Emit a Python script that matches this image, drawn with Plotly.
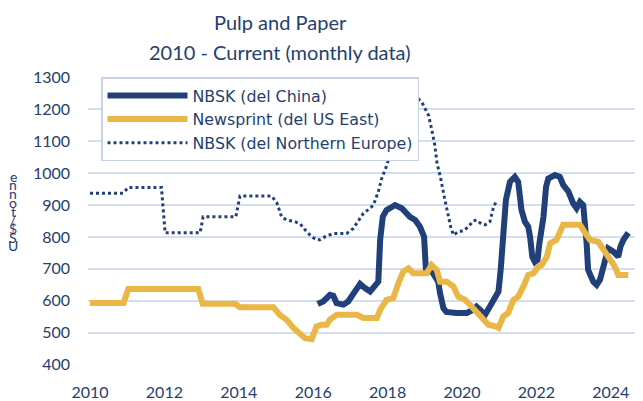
import plotly.graph_objects as go

# ---- data (decimal years, US$/tonne) ----
china_t = [2016.12, 2016.27, 2016.45, 2016.54, 2016.63, 2016.81, 2016.94, 2017.08, 2017.26, 2017.39,
           2017.53, 2017.75, 2017.80, 2017.87, 2017.97, 2018.06, 2018.20, 2018.38, 2018.60, 2018.74,
           2018.87, 2018.98, 2019.03, 2019.20, 2019.36, 2019.41, 2019.50, 2019.58, 2019.72, 2019.85,
           2019.99, 2020.13, 2020.30, 2020.39, 2020.53, 2020.62, 2020.75, 2020.89, 2020.98, 2021.04,
           2021.11, 2021.18, 2021.29, 2021.42, 2021.51, 2021.60, 2021.69, 2021.78, 2021.83, 2021.89,
           2021.96, 2022.03, 2022.08, 2022.19, 2022.26, 2022.32, 2022.50, 2022.63, 2022.72, 2022.86,
           2022.99, 2023.08, 2023.17, 2023.26, 2023.35, 2023.39, 2023.53, 2023.62, 2023.71, 2023.84,
           2023.93, 2024.07, 2024.20, 2024.26, 2024.34, 2024.47]
china_v = [590, 598, 619, 616, 593, 588, 598, 624, 653, 640,
           629, 660, 791, 863, 884, 890, 900, 890, 863, 853,
           832, 801, 697, 690, 660, 624, 577, 565, 562, 562,
           562, 562, 572, 582, 567, 556, 582, 609, 629, 697,
           811, 916, 973, 988, 973, 884, 848, 832, 800, 738,
           722, 728, 780, 863, 957, 983, 994, 988, 963, 942,
           905, 890, 910, 900, 780, 697, 660, 650, 666, 733,
           764, 754, 738, 770, 791, 813]

news_t = [2010.00, 2010.90, 2011.03, 2012.91, 2013.03, 2013.90, 2014.03, 2014.93, 2015.10, 2015.28,
          2015.47, 2015.65, 2015.78, 2015.96, 2016.09, 2016.23, 2016.36, 2016.45, 2016.63, 2017.17,
          2017.35, 2017.71, 2017.80, 2017.97, 2018.15, 2018.29, 2018.42, 2018.56, 2018.69, 2019.05,
          2019.18, 2019.32, 2019.41, 2019.59, 2019.77, 2019.90, 2020.08, 2020.22, 2020.39, 2020.57,
          2020.71, 2020.89, 2020.98, 2021.11, 2021.24, 2021.38, 2021.51, 2021.65, 2021.78, 2021.92,
          2022.05, 2022.14, 2022.28, 2022.37, 2022.54, 2022.72, 2023.17, 2023.35, 2023.44, 2023.66,
          2023.80, 2023.98, 2024.11, 2024.20, 2024.47]
news_v = [593, 593, 637, 637, 591, 591, 580, 580, 556, 541,
          515, 499, 483, 480, 520, 525, 525, 541, 556, 556,
          546, 546, 572, 603, 608, 655, 692, 702, 686, 686,
          712, 697, 660, 660, 645, 613, 603, 587, 567, 541,
          525, 520, 515, 551, 562, 603, 613, 645, 681, 686,
          707, 712, 738, 780, 791, 838, 838, 806, 791, 785,
          759, 733, 707, 681, 681]

neu_t = [2010.00, 2010.89, 2011.03, 2011.92, 2012.02, 2012.96, 2013.04, 2013.92, 2014.03, 2014.88,
         2015.02, 2015.15, 2015.29, 2015.51, 2015.65, 2015.82, 2015.96, 2016.09, 2016.18, 2016.32,
         2016.54, 2016.90, 2017.08, 2017.35, 2017.53, 2017.62, 2017.75, 2017.84, 2017.98, 2018.08,
         2018.25, 2018.42, 2018.58, 2018.75, 2018.83, 2018.92, 2019.00, 2019.10, 2019.18, 2019.27,
         2019.33, 2019.42, 2019.54, 2019.63, 2019.70, 2019.77, 2019.90, 2020.04, 2020.17, 2020.30,
         2020.39, 2020.53, 2020.62, 2020.75, 2020.84, 2020.91]
neu_v = [937, 937, 955, 955, 813, 813, 863, 863, 928, 928,
         908, 863, 853, 848, 841, 817, 801, 791, 791, 801,
         811, 811, 827, 874, 890, 900, 942, 983, 1025, 1067,
         1120, 1165, 1205, 1228, 1232, 1222, 1205, 1181, 1140, 1087,
         1030, 988, 916, 863, 830, 806, 817, 819, 832, 850,
         853, 840, 838, 848, 890, 910]

year_ticks = [2010, 2012, 2014, 2016, 2018, 2020, 2022, 2024]
y_ticks = [400, 500, 600, 700, 800, 900, 1000, 1100, 1200, 1300]

NAVY = "#21407A"
GOLD = "#EAB646"
TXT = "#24406F"
GRID = "#D5DEEF"
FONT = "Lato"

fig = go.Figure()
fig.add_trace(go.Scatter(x=china_t, y=china_v, mode="lines", name="NBSK (del China)",
                         line=dict(color=NAVY, width=6)))
fig.add_trace(go.Scatter(x=news_t, y=news_v, mode="lines", name="Newsprint (del US East)",
                         line=dict(color=GOLD, width=6)))
fig.add_trace(go.Scatter(x=neu_t, y=neu_v, mode="lines", name="NBSK (del Northern Europe)",
                         line=dict(color=NAVY, width=3, dash="dot")))

# the page body has an 8px default margin, so the figure is laid out 8px in from the window
OFF = 8
W, H = 643 - OFF, 401 - OFF
L, R, T, B = 88 - OFF, 0, 76.7 - OFF, 35.7
ph = H - T - B
pw = W - L - R


def py(screen_y):
    return (H - B - (screen_y - OFF)) / ph


def px(screen_x):
    return ((screen_x - OFF) - L) / pw


anns = []
for text, sy in [("Pulp and Paper", 22), ("2010 - Current (monthly data)", 52)]:
    anns.append(dict(text=text, xref="paper", yref="paper", x=px(280), y=py(sy),
                     xanchor="center", yanchor="middle", showarrow=False,
                     font=dict(family=FONT, size=20, color=TXT)))

# stacked vertical axis label (rendered as in the reference)
ylabel = "US$/tonne"
chars = list(reversed(ylabel))
y0, y1 = 176, 246
for i, ch in enumerate(chars):
    yy = y0 + (y1 - y0) * i / (len(chars) - 1)
    anns.append(dict(text=ch, xref="paper", yref="paper", x=px(13), y=py(yy),
                     xanchor="center", yanchor="middle", showarrow=False,
                     font=dict(family=FONT, size=14, color=TXT)))

fig.update_layout(
    width=W, height=H,
    margin=dict(l=L, r=R, t=T, b=B, pad=0),
    paper_bgcolor="white", plot_bgcolor="white",
    font=dict(family=FONT, color=TXT),
    showlegend=True,
    legend=dict(x=px(101), y=py(77), xanchor="left", yanchor="top",
                bgcolor="white", bordercolor="#C8D3E8", borderwidth=1.5,
                font=dict(family="DejaVu Sans", size=15.8, color=TXT), itemwidth=80,
                tracegroupgap=0),
    annotations=anns,
    xaxis=dict(range=[2010 - 2 / 37.2, 2010 + (643 - 90) / 37.2], tickmode="array",
               tickvals=year_ticks, ticktext=[str(v) for v in year_ticks],
               showgrid=False, zeroline=False, showline=False, ticks="",
               tickfont=dict(family=FONT, size=16, color=TXT), ticklabelstandoff=16),
    yaxis=dict(range=[399, 1301], tickmode="array", tickvals=y_ticks,
               showgrid=True, gridcolor=GRID, gridwidth=1.5, zeroline=False,
               showline=False, ticks="",
               tickfont=dict(family=FONT, size=16, color=TXT), ticklabelstandoff=17),
)

fig.write_html("out.html")
